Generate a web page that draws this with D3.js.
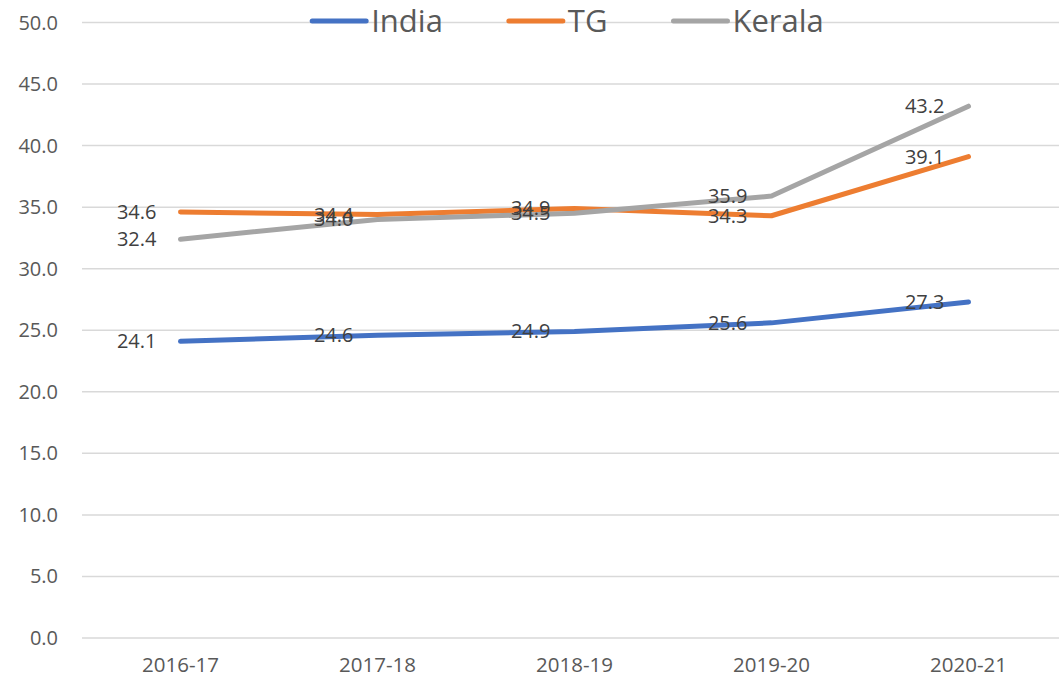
<!DOCTYPE html>
<html>
<head>
<meta charset="utf-8">
<script src="https://cdn.jsdelivr.net/npm/d3@7/dist/d3.min.js"></script>
<style>
  body { margin: 0; background: #fff; }
  svg { display: block; font-family: "Open Sans", sans-serif; }
</style>
</head>
<body>
<svg id="chart" width="1059" height="678"></svg>
<script>
// chart data
var years = ["2016-17", "2017-18", "2018-19", "2019-20", "2020-21"];
var seriesNames = ["India", "TG", "Kerala"];
var india = [24.1, 24.6, 24.9, 25.6, 27.3];
var tg = [34.6, 34.4, 34.9, 34.3, 39.1];
var kerala = [32.4, 34.0, 34.5, 35.9, 43.2];
var yTicks = [0, 5, 10, 15, 20, 25, 30, 35, 40, 45, 50];
var colors = ["#4472C4", "#ED7D31", "#A5A5A5"];

var allSeries = [india, tg, kerala];

var svg = d3.select("#chart");
// plot area (note: "top" is taken by window.top, so prefix these)
var plotLeft = 82, plotRight = 1067, plotTop = 22.5, plotBottom = 638;

var x = d3.scaleBand().domain(years).range([plotLeft, plotRight]);
var y = d3.scaleLinear().domain([0, 50]).range([plotBottom, plotTop]);
var cx = function(d) { return x(d) + x.bandwidth() / 2; };

// gridlines
svg.append("g").selectAll("line")
  .data(yTicks)
  .enter().append("line")
  .attr("x1", plotLeft).attr("x2", plotRight)
  .attr("y1", function(d) { return y(d); })
  .attr("y2", function(d) { return y(d); })
  .attr("stroke", "#d9d9d9")
  .attr("stroke-width", 1.5);

// y tick labels
svg.append("g").selectAll("text")
  .data(yTicks)
  .enter().append("text")
  .attr("x", 58)
  .attr("y", function(d) { return y(d); })
  .attr("dy", "0.35em")
  .attr("text-anchor", "end")
  .attr("font-size", 20)
  .attr("fill", "#595959")
  .text(function(d) { return d.toFixed(1); });

// x labels
svg.append("g").selectAll("text")
  .data(years)
  .enter().append("text")
  .attr("x", cx)
  .attr("y", 665)
  .attr("dy", "0.35em")
  .attr("text-anchor", "middle")
  .attr("font-size", 20.5)
  .attr("fill", "#595959")
  .text(function(d) { return d; });

// lines
var line = d3.line()
  .x(function(d, i) { return cx(years[i]); })
  .y(function(d) { return y(d); });

allSeries.forEach(function(vals, s) {
  svg.append("path")
    .datum(vals)
    .attr("d", line)
    .attr("fill", "none")
    .attr("stroke", colors[s])
    .attr("stroke-width", 5)
    .attr("stroke-linecap", "round")
    .attr("stroke-linejoin", "round");
});

// data labels, placed to the left of each point
allSeries.forEach(function(vals, s) {
  svg.append("g").selectAll("text")
    .data(vals)
    .enter().append("text")
    .attr("x", function(d, i) { return cx(years[i]) - 24; })
    .attr("y", function(d) { return y(d); })
    .attr("dy", "0.35em")
    .attr("text-anchor", "end")
    .attr("font-size", 20)
    .attr("fill", "#404040")
    .text(function(d) { return d.toFixed(1); });
});

// legend
var legend = svg.append("g");
var lx = 0;
seriesNames.forEach(function(name, s) {
  var g = legend.append("g").attr("transform", "translate(" + lx + ",0)");
  g.append("line")
    .attr("x1", 0).attr("x2", 54)
    .attr("y1", 0).attr("y2", 0)
    .attr("stroke", colors[s])
    .attr("stroke-width", 5)
    .attr("stroke-linecap", "round");
  var t = g.append("text")
    .attr("x", 59)
    .attr("y", 0)
    .attr("dy", "0.35em")
    .attr("font-size", 31)
    .attr("fill", "#595959")
    .text(name);
  lx += 59 + t.node().getComputedTextLength() + 66;
});
var lw = legend.node().getBBox().width;
legend.attr("transform", "translate(" + (568 - lw / 2) + ",21)");
</script>
</body>
</html>
